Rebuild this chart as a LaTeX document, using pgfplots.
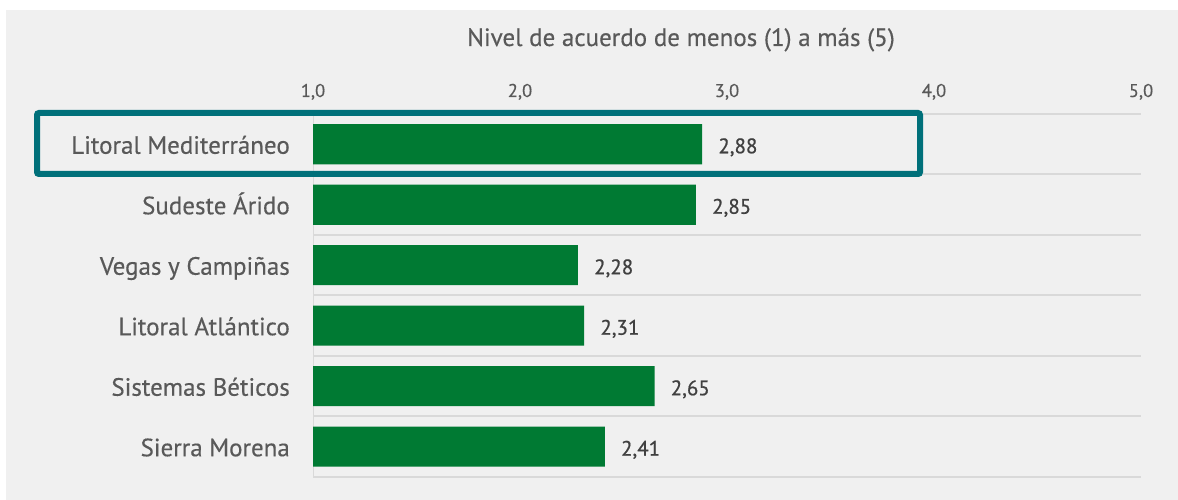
\documentclass[border=0pt]{standalone}
\usepackage{pgfplots}
\pgfplotsset{compat=1.18}
\usepackage{fontspec}
\setmainfont{PT Sans}[FakeBold=0.35]
\newfontfamily\valfont{PT Sans}[FakeBold=0.7]
\definecolor{bg}{HTML}{F0F0F0}
\definecolor{barc}{HTML}{007A33}
\definecolor{hl}{HTML}{00707A}
\definecolor{txt}{HTML}{595959}
\definecolor{val}{HTML}{404040}
\definecolor{gridc}{HTML}{D9D9D9}
\begin{document}
\begin{tikzpicture}[x=1bp,y=1bp]
\fill[white] (0,0) rectangle (1178,500);
\fill[bg] (6,0) rectangle (1178,490);
\begin{axis}[
  at={(313bp,23bp)}, anchor=south west,
  scale only axis, width=828bp, height=363bp,
  xmin=1, xmax=5, ymin=-0.5, ymax=5.5, y dir=reverse,
  xbar, bar width=40bp,
  xtick={1,2,3,4,5}, xticklabel pos=right,
  xticklabel style={font=\fontsize{18.5bp}{18.5bp}\selectfont, text=txt, anchor=base, yshift=17bp, inner sep=0pt},
  /pgf/number format/.cd, use comma, fixed, fixed zerofill, precision=1, assume math mode=true, /pgfplots/.cd,
  ytick={0,1,2,3,4,5},
  yticklabels={Litoral Mediterráneo, Sudeste Árido, Vegas y Campiñas, Litoral Atlántico, Sistemas Béticos, Sierra Morena},
  yticklabel style={font=\fontsize{25bp}{25bp}\selectfont, text=txt, anchor=base east, xshift=-23bp, yshift=-9.5bp, inner sep=0pt},
  major tick length=0, minor tick length=0,
  axis line style={draw=none},
  minor ytick={-0.5,0.5,1.5,2.5,3.5,4.5,5.5}, yminorgrids,
  minor grid style={gridc, line width=2bp},
  point meta=x,
  nodes near coords={\pgfmathprintnumber[fixed,fixed zerofill,precision=2,use comma,assume math mode=true]{\pgfplotspointmeta}},
  nodes near coords style={font=\valfont\fontsize{21bp}{21bp}\selectfont, text=val, anchor=base west, xshift=16bp, yshift=-9bp, inner sep=0pt},
]
\draw[gridc, line width=2bp] (axis cs:1,-0.5) -- (axis cs:1,5.5);
\addplot[fill=barc, draw=none] coordinates {(2.88,0) (2.85,1) (2.28,2) (2.31,3) (2.65,4) (2.41,5)};
\end{axis}
\draw[hl, line width=6bp, rounded corners=2bp] (37,387) rectangle (920,326);
\node[font=\fontsize{25bp}{25bp}\selectfont, text=txt, anchor=base] at (681,454) {Nivel de acuerdo de menos (1) a más (5)};
\end{tikzpicture}
\end{document}
